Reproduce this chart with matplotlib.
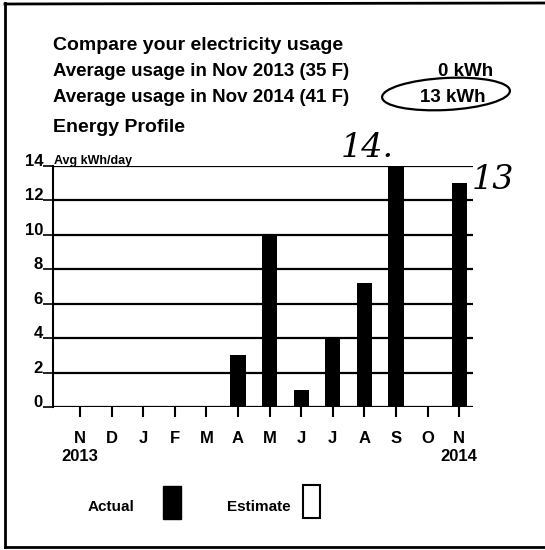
import matplotlib
matplotlib.use('Agg')
import matplotlib.pyplot as plt
from matplotlib.patches import Ellipse, Rectangle

# data read from the scanned bill
months = ['N', 'D', 'J', 'F', 'M', 'A', 'M', 'J', 'J', 'A', 'S', 'O', 'N']
years = {0: '2013', 12: '2014'}
usage = [0, 0, 0, 0, 0, 3, 10, 1, 4, 7.2, 14, 0, 13]
yticks = [0, 2, 4, 6, 8, 10, 12, 14]

header = ['Compare your electricity usage',
          'Average usage in Nov 2013 (35 F)',
          'Average usage in Nov 2014 (41 F)']
compare_vals = ['0 kWh', '13 kWh']

FONT = ['Liberation Sans', 'DejaVu Sans']
plt.rcParams['font.family'] = FONT
plt.rcParams['font.weight'] = 'bold'

W, H = 545, 550
fig = plt.figure(figsize=(W / 100, H / 100), dpi=100)

# overlay in pixel coords for the page furniture
ov = fig.add_axes([0, 0, 1, 1])
ov.set_xlim(0, W)
ov.set_ylim(H, 0)
ov.axis('off')

ax = fig.add_axes([53 / W, 1 - 407 / H, (473 - 53) / W, (407 - 166) / H])
x = list(range(len(months)))
ax.bar(x, usage, width=0.48, color='black', zorder=3)
ax.set_xlim(-0.855, 12.44)
ax.set_ylim(0, 14)
ax.set_yticks(yticks)
ax.set_yticklabels([str(v) for v in yticks], fontsize=12, fontweight='bold')
for lab in ax.get_yticklabels():
    lab.set_verticalalignment('baseline')
ax.set_xticks(x)
ax.set_xticklabels([m + ('\n' + years[i] if i in years else '') for i, m in enumerate(months)],
                   fontsize=12, fontweight='bold', linespacing=1.25)
ax.tick_params(axis='x', length=7.2, width=1.5, pad=10, direction='out')
ax.tick_params(axis='y', length=7.2, width=1.2, pad=0, direction='out')
ax.yaxis.grid(True, color='black', lw=1.6, zorder=1)
for s in ['top', 'right', 'bottom']:
    ax.spines[s].set_visible(False)
ax.spines['left'].set_linewidth(1.5)
ax.set_facecolor('none')

# frame of the bill section
ov.plot([5, 5], [3, 547], color='black', lw=2)
ov.plot([5, 545], [4, 3], color='black', lw=2)
ov.plot([5, 545], [547, 547], color='black', lw=2)

# header text
ov.text(53, 45, header[0], fontsize=14, fontweight='bold', va='center', ha='left')
ov.text(53, 72, header[1], fontsize=13.5, fontweight='bold', va='center', ha='left')
ov.text(53, 97, header[2], fontsize=13.5, fontweight='bold', va='center', ha='left')
ov.text(53, 128, 'Energy Profile', fontsize=14, fontweight='bold', va='center', ha='left')
ov.text(493, 72, compare_vals[0], fontsize=13.5, fontweight='bold', va='center', ha='right')
ov.text(486, 97, compare_vals[1], fontsize=13.5, fontweight='bold', va='center', ha='right')
ov.add_patch(Ellipse((446, 94), 128, 32, angle=-3, fill=False, ec='black', lw=1.6))
ov.text(54, 161, 'Avg kWh/day', fontsize=9, fontweight='bold', va='center', ha='left')

# handwritten notes
ov.text(367, 148, '14.', fontsize=24, style='italic', fontweight='normal',
        family='DejaVu Serif', va='center', ha='center')
ov.text(493, 180, '13', fontsize=24, style='italic', fontweight='normal',
        family='DejaVu Serif', va='center', ha='center')

# legend
ov.text(88, 507, 'Actual', fontsize=11, fontweight='bold', va='center', ha='left')
ov.add_patch(Rectangle((163, 486), 18, 33, fc='black', ec='black'))
ov.text(227, 507, 'Estimate', fontsize=11, fontweight='bold', va='center', ha='left')
ov.add_patch(Rectangle((303, 485), 17, 33, fc='white', ec='black', lw=1.5))

fig.savefig('out.png', dpi=100)
